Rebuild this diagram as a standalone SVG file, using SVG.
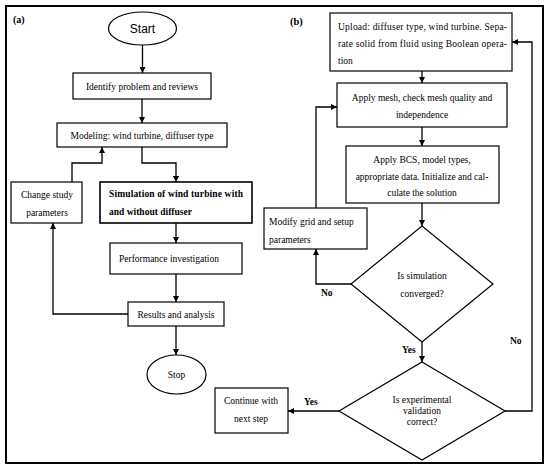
<svg xmlns="http://www.w3.org/2000/svg" width="550" height="471" viewBox="0 0 550 471">
<style>
.b{fill:#fff;stroke:#000;stroke-width:1.2}
.t{font-family:"Liberation Serif","Times New Roman",serif;font-size:9.5px;fill:#000}
.c{text-anchor:middle}
.bd{font-weight:bold}
.cn path{fill:none;stroke:#000;stroke-width:1.3;marker-end:url(#ah)}
</style>
<defs>
<marker id="ah" viewBox="0 0 10 10" refX="10" refY="5" markerWidth="7" markerHeight="6" markerUnits="userSpaceOnUse" orient="auto">
<path d="M0,0 L10,5 L0,10 z" fill="#000"/>
</marker>
</defs>
<rect x="0" y="0" width="550" height="471" fill="#fff"/>
<rect x="6" y="6" width="537" height="457" fill="none" stroke="#000" stroke-width="2"/>
<text class="t bd" x="13" y="23" style="font-size:10px">(a)</text>
<text class="t bd" x="290" y="25" style="font-size:10.5px">(b)</text>

<g class="cn" id="connectors">
<path d="M142.5,45 V73"/>
<path d="M142,99 V123"/>
<path d="M142,147 V163 H176 V182"/>
<path d="M72,182 V163 H102 V147"/>
<path d="M176,223 V243"/>
<path d="M176,274 V302"/>
<path d="M128,314 H53 V223"/>
<path d="M176,326 V355"/>
<path d="M422,71 V83"/>
<path d="M422,127 V146"/>
<path d="M422,203 V226"/>
<path d="M351,284 H316 V249"/>
<path d="M316,208 V107 H337"/>
<path d="M422,342 V362"/>
<path d="M339,411 H288"/>
<path d="M505,411 H532 V42 H512"/>
</g>
<g id="lbl-no1"><text class="t bd" x="321" y="296">No</text></g>
<g id="lbl-yes1"><text class="t bd" x="402" y="353">Yes</text></g>
<g id="lbl-yes2"><text class="t bd" x="304" y="405">Yes</text></g>
<g id="lbl-no2"><text class="t bd" x="510" y="344">No</text></g>

<g id="start">
<ellipse class="b" cx="142.5" cy="28.5" rx="34" ry="16.5"/>
<text class="c" x="142.5" y="33" style="font-family:'Liberation Sans',Arial,sans-serif;font-size:12px">Start</text>
</g>
<g id="identify">
<rect class="b" x="73" y="73" width="138" height="26"/>
<text class="t c" x="142" y="90">Identify problem and reviews</text>
</g>
<g id="modeling">
<rect class="b" x="57" y="123" width="170" height="24"/>
<text class="t c" x="142" y="138.5">Modeling: wind turbine, diffuser type</text>
</g>
<g id="change">
<rect class="b" x="11" y="182" width="71" height="41"/>
<text class="t c" x="47" y="198">Change study</text>
<text class="t c" x="47" y="216">parameters</text>
</g>
<g id="simulation">
<rect class="b" x="100" y="182" width="152" height="41" style="stroke-width:1.6"/>
<text class="t bd" x="109" y="197" textLength="134" lengthAdjust="spacing">Simulation of wind turbine with</text>
<text class="t bd" x="109" y="215">and without diffuser</text>
</g>
<g id="performance">
<rect class="b" x="110" y="243" width="132" height="31"/>
<text class="t" x="119" y="262">Performance investigation</text>
</g>
<g id="results">
<rect class="b" x="128" y="302" width="96" height="24"/>
<text class="t c" x="176" y="317.5">Results and analysis</text>
</g>
<g id="stop">
<ellipse class="b" cx="176.5" cy="374.5" rx="29.5" ry="19.5"/>
<text class="t c" x="176.5" y="378">Stop</text>
</g>

<g id="upload">
<rect class="b" x="330" y="13" width="182" height="58"/>
<text class="t" x="338" y="30" textLength="169" lengthAdjust="spacing">Upload: diffuser type, wind turbine. Sepa-</text>
<text class="t" x="338" y="47" textLength="169" lengthAdjust="spacing">rate solid from fluid using Boolean opera-</text>
<text class="t" x="338" y="64">tion</text>
</g>
<g id="mesh">
<rect class="b" x="337" y="83" width="170" height="44"/>
<text class="t c" x="422" y="101">Apply mesh, check mesh quality and</text>
<text class="t c" x="422" y="118">independence</text>
</g>
<g id="bcs">
<rect class="b" x="346" y="146" width="153" height="57"/>
<text class="t c" x="422" y="163">Apply BCS, model types,</text>
<text class="t c" x="422" y="180">appropriate data. Initialize and cal-</text>
<text class="t c" x="422" y="196">culate the solution</text>
</g>
<g id="modify">
<rect class="b" x="264" y="208" width="103" height="41"/>
<text class="t" x="269" y="225">Modify grid and setup</text>
<text class="t" x="269" y="243">parameters</text>
</g>
<g id="converged">
<polygon class="b" points="422,226 493,284 422,342 351,284"/>
<text class="t c" x="422" y="279">Is simulation</text>
<text class="t c" x="422" y="297">converged?</text>
</g>
<g id="validation">
<polygon class="b" points="422,362 505,411 422,460 339,411"/>
<text class="t c" x="422" y="403">Is experimental</text>
<text class="t c" x="422" y="414">validation</text>
<text class="t c" x="422" y="425">correct?</text>
</g>
<g id="continue">
<rect class="b" x="215" y="388" width="73" height="45"/>
<text class="t c" x="251" y="404">Continue with</text>
<text class="t c" x="251" y="422">next step</text>
</g>
</svg>
